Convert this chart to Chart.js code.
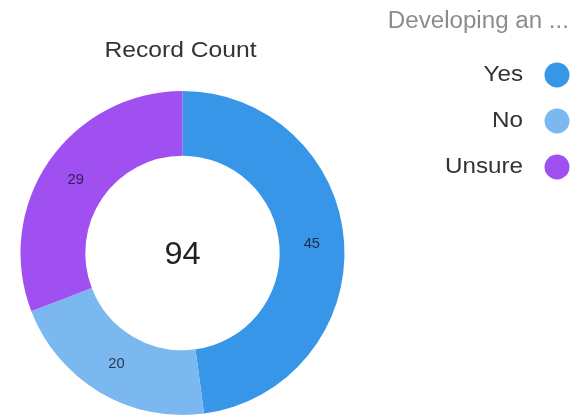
<!DOCTYPE html>
<html>
<head>
<meta charset="utf-8">
<script src="https://cdn.jsdelivr.net/npm/chart.js@4.4.1/dist/chart.umd.min.js"></script>
<style>
html,body{margin:0;padding:0;background:#fff;}
#wrap{width:587px;height:419px;position:relative;}
</style>
</head>
<body>
<div id="wrap"><canvas id="c" width="587" height="419"></canvas></div>
<script>
const categories = ["Yes", "No", "Unsure"];
const recordCounts = [45, 20, 29];
const sliceColors = ["#3896E8", "#7AB8EF", "#A04FF0"];
const chartTitle = "Record Count";
const legendTitle = "Developing an ...";

const FONT = "'Liberation Sans', Arial, sans-serif";

function stretchedText(ctx, text, x, y, sx, align) {
  ctx.save();
  ctx.translate(x, y);
  ctx.scale(sx, 1);
  ctx.textAlign = align;
  ctx.fillText(text, 0, 0);
  ctx.restore();
}

const overlay = {
  id: 'overlay',
  afterDatasetsDraw(chart) {
    const ctx = chart.ctx;
    const meta = chart.getDatasetMeta(0);
    const ds = chart.data.datasets[0];
    ctx.save();
    ctx.textBaseline = "middle";
    // slice labels
    ctx.font = "14px " + FONT;
    ctx.fillStyle = "rgba(20,20,40,0.8)";
    meta.data.forEach((arc, i) => {
      const p = arc.tooltipPosition();
      stretchedText(ctx, String(ds.data[i]), p.x, p.y, 1.05, "center");
    });
    // center total
    const a0 = meta.data[0];
    const total = ds.data.reduce((s, v) => s + v, 0);
    ctx.font = "31px " + FONT;
    ctx.fillStyle = "#222";
    stretchedText(ctx, String(total), a0.x, a0.y + 2, 1.05, "center");
    // title
    ctx.font = "22px " + FONT;
    ctx.fillStyle = "#333";
    stretchedText(ctx, chartTitle, a0.x - 2, 51, 1.12, "center");
    // legend
    ctx.font = "23px " + FONT;
    ctx.fillStyle = "#8c8c8c";
    stretchedText(ctx, legendTitle, 569, 22, 1.05, "right");
    ctx.font = "22px " + FONT;
    chart.data.labels.forEach((lab, i) => {
      const y = 75 + i * 46;
      ctx.fillStyle = "#333";
      stretchedText(ctx, lab, 523, y, 1.1, "right");
      ctx.beginPath();
      ctx.arc(557, y, 12.5, 0, Math.PI * 2);
      ctx.fillStyle = ds.backgroundColor[i];
      ctx.fill();
    });
    ctx.restore();
  }
};

new Chart(document.getElementById('c'), {
  type: 'doughnut',
  data: {
    labels: categories,
    datasets: [{
      data: recordCounts,
      backgroundColor: sliceColors,
      borderWidth: 0
    }]
  },
  options: {
    responsive: false,
    animation: false,
    cutout: '60%',
    layout: { padding: { left: 20, right: 242, top: 91, bottom: 4 } },
    plugins: {
      legend: { display: false },
      tooltip: { enabled: false },
      title: { display: false }
    }
  },
  plugins: [overlay]
});
</script>
</body>
</html>
